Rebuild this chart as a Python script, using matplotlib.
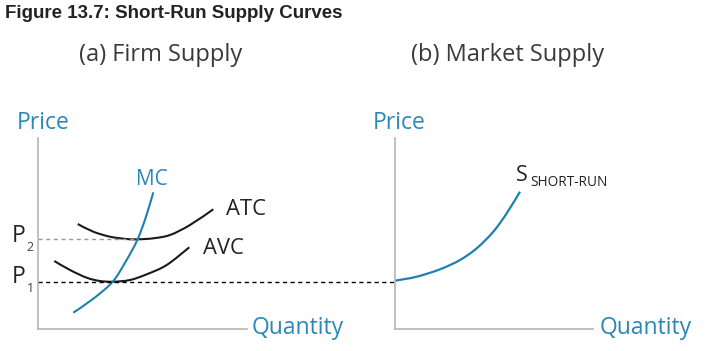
import matplotlib
matplotlib.use("Agg")
import matplotlib.pyplot as plt
from matplotlib.path import Path
from matplotlib.patches import PathPatch

# ---- data (arbitrary units, origin at axis corner) ----
mc_q = [35.3, 55.3, 74.7, 88.0, 99.3, 108.0, 115.3]
mc_p = [16.3, 30.3, 47.3, 68.0, 89.0, 112.3, 136.7]
atc_q = [39.7, 55.3, 72.0, 88.7, 100.3, 115.3, 132.0, 152.0, 175.3]
atc_p = [105.0, 97.3, 92.3, 90.0, 89.7, 90.7, 94.0, 104.0, 119.7]
avc_q = [16.3, 32.0, 48.7, 62.0, 75.3, 92.0, 108.7, 128.7, 151.3]
avc_p = [68.0, 59.0, 51.3, 48.0, 47.3, 49.0, 54.7, 64.0, 81.7]
p1 = 47.5
p2 = 89.7
q_p2 = 100.3
sup_q = [0.0, 21.7, 45.0, 65.0, 81.7, 98.3, 111.7, 125.0]
sup_p = [48.3, 52.3, 59.7, 69.0, 80.7, 97.3, 115.7, 137.3]

W, H = 714, 351
fig = plt.figure(figsize=(W / 100, H / 100), dpi=100)
fig.patch.set_facecolor("white")

BLUE = "#2a88b8"
CURVE_BLUE = "#1f80b0"
AXIS_GRAY = "#b5b5b5"
DARK = "#222222"
FONT = "Open Sans"


def fx(px):
    return px / W


def fy(py):
    return 1 - py / H


def make_ax(x0, x1, y0, y1):
    ax = fig.add_axes([fx(x0), fy(y1), (x1 - x0) / W, (y1 - y0) / H])
    ax.set_xlim(0, x1 - x0)
    ax.set_ylim(0, y1 - y0)
    for s in ["top", "right"]:
        ax.spines[s].set_visible(False)
    for s in ["left", "bottom"]:
        ax.spines[s].set_color(AXIS_GRAY)
        ax.spines[s].set_linewidth(1.2)
    ax.set_xticks([])
    ax.set_yticks([])
    ax.patch.set_alpha(0)
    return ax


def smooth_curve(ax, xs, ys, color, lw):
    """Draw a smooth curve through the given points (Catmull-Rom as cubic Bezier path)."""
    pts = list(zip(xs, ys))
    n = len(pts)
    verts = [pts[0]]
    codes = [Path.MOVETO]
    for i in range(n - 1):
        p0 = pts[i - 1] if i > 0 else pts[i]
        p1_ = pts[i]
        p2_ = pts[i + 1]
        p3 = pts[i + 2] if i + 2 < n else pts[i + 1]
        c1 = (p1_[0] + (p2_[0] - p0[0]) / 6, p1_[1] + (p2_[1] - p0[1]) / 6)
        c2 = (p2_[0] - (p3[0] - p1_[0]) / 6, p2_[1] - (p3[1] - p1_[1]) / 6)
        verts += [c1, c2, p2_]
        codes += [Path.CURVE4] * 3
    patch = PathPatch(Path(verts, codes), fill=False, edgecolor=color, lw=lw,
                      capstyle="butt")
    ax.add_patch(patch)


axl = make_ax(38, 247, 138, 329)
axr = make_ax(395, 593, 138, 329)

# left panel
axl.plot([0, q_p2], [p2, p2], ls=(0, (3, 2.5)), color="#999999", lw=1.0, clip_on=False)
axl.plot([0, 357], [p1, p1], ls=(0, (3, 2.5)), color="black", lw=1.0, clip_on=False)
smooth_curve(axl, atc_q, atc_p, "#1a1a1a", 1.5)
smooth_curve(axl, avc_q, avc_p, "#1a1a1a", 1.5)
smooth_curve(axl, mc_q, mc_p, CURVE_BLUE, 1.5)

# right panel
smooth_curve(axr, sup_q, sup_p, CURVE_BLUE, 1.6)

# texts
fig.text(fx(5), fy(14), "Figure 13.7: Short-Run Supply Curves", family="Liberation Sans",
         weight="bold", fontsize=13.5, color=DARK, va="center", ha="left")
fig.text(fx(161), fy(55), "(a) Firm Supply", family=FONT, fontsize=17,
         color="#3a3a3a", va="center", ha="center")
fig.text(fx(508), fy(55), "(b) Market Supply", family=FONT, fontsize=17,
         color="#3a3a3a", va="center", ha="center")

for x in (17, 373):
    fig.text(fx(x), fy(129), "Price", family=FONT, fontsize=16.5, color=BLUE,
             va="baseline", ha="left")
fig.text(fx(252), fy(334), "Quantity", family=FONT, fontsize=16.5, color=BLUE,
         va="baseline", ha="left")
fig.text(fx(600), fy(334), "Quantity", family=FONT, fontsize=16.5, color=BLUE,
         va="baseline", ha="left")

fig.text(fx(152), fy(185), "MC", family=FONT, fontsize=15, color=BLUE, va="baseline", ha="center")
fig.text(fx(226), fy(215), "ATC", family=FONT, fontsize=15.8, color=DARK, va="baseline", ha="left")
fig.text(fx(203), fy(254), "AVC", family=FONT, fontsize=15.8, color=DARK, va="baseline", ha="left")

fig.text(fx(12), fy(242), "P", family=FONT, fontsize=16.5, color=DARK, va="baseline", ha="left")
fig.text(fx(26.5), fy(251), "2", family=FONT, fontsize=9, color="#444444", va="baseline", ha="left")
fig.text(fx(12), fy(283), "P", family=FONT, fontsize=16.5, color=DARK, va="baseline", ha="left")
fig.text(fx(26.5), fy(292), "1", family=FONT, fontsize=9, color="#444444", va="baseline", ha="left")

fig.text(fx(516), fy(181), "S", family=FONT, fontsize=15.5, color=DARK, va="baseline", ha="left")
fig.text(fx(530), fy(186), "SHORT-RUN", family=FONT, fontsize=9.8, color=DARK, va="baseline", ha="left")

fig.savefig("out.png", dpi=100, facecolor="white")
